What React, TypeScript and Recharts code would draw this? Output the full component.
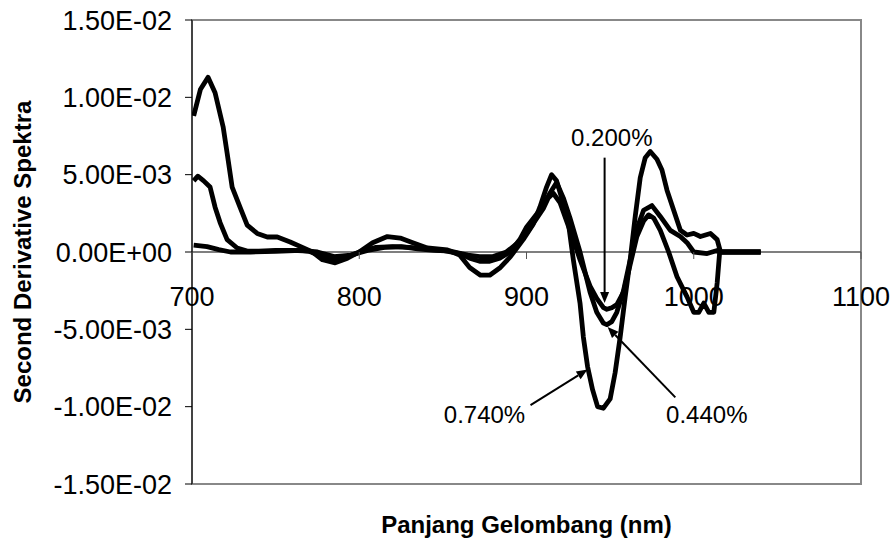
import {
  Line,
  LineChart,
  ReferenceArea,
  ReferenceDot,
  ReferenceLine,
  XAxis,
  YAxis,
} from "recharts";

// values, y in units of 1E-03
const nm740 = [701, 705, 709.6, 713.8, 718.6, 721, 724, 728.7, 733, 739, 745, 751, 758.7, 766, 772, 778, 785.6, 793, 800, 808, 816.8, 824.5, 832, 840.7, 852.7, 860, 866, 872.5, 878, 884.4, 890.4, 898, 904, 908, 912, 915, 918, 921, 924.5, 928, 932, 934, 936.5, 939.5, 942.5, 946, 950, 953, 956, 959, 962, 965, 968, 971, 974, 978, 981, 984, 988, 992, 996, 1000, 1004, 1010, 1014, 1016, 1025, 1040];
const val740 = [8.8, 10.5, 11.3, 10.3, 8.1, 6.4, 4.2, 2.9, 1.74, 1.2, 0.97, 0.97, 0.65, 0.3, 0, -0.5, -0.7, -0.4, 0, 0.6, 1.0, 0.9, 0.6, 0.26, 0.13, -0.2, -1.0, -1.5, -1.5, -1.0, -0.3, 0.8, 1.8, 2.9, 4.2, 5.0, 4.6, 3.5, 2.3, -0.5, -3.3, -5.5, -7.4, -8.9, -10.0, -10.1, -9.5, -7.8, -5.5, -2.9, -0.5, 2.3, 4.8, 6.1, 6.5, 6.0, 5.3, 4.0, 2.7, 1.4, 1.1, 1.2, 1.0, 1.2, 0.8, 0, 0, 0];

const nm440 = [701, 703.5, 707, 710.8, 713.8, 716.8, 721, 727, 733, 740, 750, 760, 770, 778, 786, 793, 800, 810, 820, 830, 840, 850, 860, 866, 872, 878, 884, 890, 896, 900, 905, 910, 914, 918, 922, 926, 932, 938, 942, 946, 948, 951, 954, 958, 962, 966, 970, 975, 980, 986, 992, 996, 1000, 1008, 1014, 1016, 1025, 1040];
const val440 = [4.6, 4.9, 4.6, 4.2, 2.9, 1.9, 0.8, 0.26, 0.06, 0.05, 0.1, 0.1, 0.05, -0.3, -0.5, -0.3, 0, 0.3, 0.35, 0.3, 0.2, 0.1, -0.1, -0.4, -0.6, -0.6, -0.4, 0, 0.8, 1.6, 2.3, 3.0, 3.8, 4.5, 3.5, 2.2, 0.0, -2.6, -3.9, -4.6, -4.7, -4.5, -3.9, -2.5, -0.5, 1.5, 2.7, 3.0, 2.3, 1.4, 1.0, 0.6, 0, -0.1, 0.1, 0, 0, 0];

const nm200 = [701, 709, 716, 723, 735, 750, 765, 775, 785, 795, 805, 815, 825, 835, 845, 855, 865, 872, 880, 888, 895, 900, 905, 910, 913, 916, 920, 924, 928, 932, 938, 942, 946, 948, 951, 954, 958, 962, 966, 970, 973, 976, 980, 985, 990, 996, 1000, 1003, 1006, 1009, 1012, 1014, 1015.5, 1025, 1040];
const val200 = [0.45, 0.35, 0.15, 0, 0, 0.05, 0.1, 0, -0.3, -0.2, 0.1, 0.3, 0.35, 0.2, 0.1, 0.05, -0.2, -0.3, -0.3, 0, 0.6, 1.2, 2.0, 2.8, 3.5, 3.8, 3.2, 2.0, 0.8, -0.5, -2.2, -3.0, -3.6, -3.7, -3.6, -3.4, -2.6, -0.8, 1.0, 2.0, 2.4, 2.2, 1.4, 0, -1.6, -2.9, -3.9, -3.9, -3.3, -3.9, -3.9, -2.0, 0, 0, 0];

const xTicks = [700, 800, 900, 1000, 1100];
const yTicks = [-0.015, -0.01, -0.005, 0, 0.005, 0.01, 0.015];

const toRows = (xs: number[], ys: number[]) =>
  xs.map((x, i) => ({ x, y: ys[i] * 1e-3 }));

const FONT = "'Liberation Sans', Arial, sans-serif";
const PLOT_H = 464;

function fmtE(v: number) {
  const [m, e] = v.toExponential(2).split("e");
  const n = Math.abs(Number(e));
  return `${m}E${e.startsWith("-") ? "-" : "+"}${String(n).padStart(2, "0")}`;
}

function XTick({ x, y, payload }: any) {
  const zeroY = y - PLOT_H / 2;
  return (
    <g>
      <line x1={x} x2={x} y1={zeroY} y2={zeroY + 7} stroke="#555" />
      <text x={x} y={zeroY + 54} textAnchor="middle" fontSize={27} fill="#000" fontFamily={FONT}>
        {payload.value}
      </text>
    </g>
  );
}

function Arrow(head: boolean) {
  return (p: any) => {
    const { x1, y1, x2, y2 } = p;
    const a = Math.atan2(y2 - y1, x2 - x1);
    const L = 11;
    const W = 4.5;
    const bx = x2 - L * Math.cos(a);
    const by = y2 - L * Math.sin(a);
    const pts = `${x2},${y2} ${bx - W * Math.sin(a)},${by + W * Math.cos(a)} ${bx + W * Math.sin(a)},${by - W * Math.cos(a)}`;
    return (
      <g>
        <line x1={x1} y1={y1} x2={head ? bx : x2} y2={head ? by : y2} stroke="#000" strokeWidth={2} />
        {head && <polygon points={pts} fill="#000" />}
      </g>
    );
  };
}

function Note(text: string) {
  return (p: any) => (
    <text x={p.cx} y={p.cy} dy="0.35em" textAnchor="middle" fontSize={24} fill="#000" fontFamily={FONT}>
      {text}
    </text>
  );
}

export default function App() {
  return (
    <div style={{ width: 892, height: 540, background: "#fff" }}>
      <style>{`body{margin:0}`}</style>
      <LineChart
        width={892}
        height={540}
        margin={{ top: 20, right: 31, bottom: 0, left: 0 }}
        style={{ fontFamily: FONT }}
      >
        <XAxis
          type="number"
          dataKey="x"
          domain={[700, 1100]}
          ticks={xTicks}
          allowDataOverflow
          axisLine={false}
          tickLine={false}
          tickSize={0}
          tickMargin={0}
          height={56}
          tick={<XTick />}
          label={{
            content: (p: any) => (
              <text
                x={p.viewBox.x + p.viewBox.width / 2}
                y={533}
                textAnchor="middle"
                fontSize={24}
                fontWeight="bold"
                fill="#000"
                fontFamily={FONT}
              >
                Panjang Gelombang (nm)
              </text>
            ),
          }}
        />
        <YAxis
          type="number"
          domain={[-0.015, 0.015]}
          ticks={yTicks}
          allowDataOverflow
          width={192}
          axisLine={{ stroke: "#000" }}
          tickLine={{ stroke: "#000" }}
          tickSize={7}
          tickMargin={13}
          tickFormatter={fmtE}
          tick={{ fontSize: 27, fill: "#000", fontFamily: FONT }}
          label={{
            content: (p: any) => {
              const cy = p.viewBox.y + p.viewBox.height / 2;
              return (
                <text
                  x={23}
                  y={cy}
                  transform={`rotate(-90, 23, ${cy})`}
                  dy="0.35em"
                  textAnchor="middle"
                  fontSize={24}
                  fontWeight="bold"
                  fill="#000"
                  fontFamily={FONT}
                >
                  Second Derivative Spektra
                </text>
              );
            },
          }}
        />
        <ReferenceArea
          x1={700}
          x2={1100}
          y1={-0.015}
          y2={0.015}
          fill="none"
          stroke="#888"
          strokeWidth={2}
        />
        <ReferenceLine y={0} stroke="#555" strokeWidth={1.5} />
        <Line data={toRows(nm200, val200)} dataKey="y" name="0.200%" type="linear" stroke="#000" strokeWidth={4.8} strokeLinejoin="round" dot={false} isAnimationActive={false} />
        <Line data={toRows(nm440, val440)} dataKey="y" name="0.440%" type="linear" stroke="#000" strokeWidth={4.8} strokeLinejoin="round" dot={false} isAnimationActive={false} />
        <Line data={toRows(nm740, val740)} dataKey="y" name="0.740%" type="linear" stroke="#000" strokeWidth={4.8} strokeLinejoin="round" dot={false} isAnimationActive={false} />
        <ReferenceLine
          segment={[{ x: 946.7, y: 0.0061 }, { x: 946.7, y: -0.0033 }]}
          shape={Arrow(true)}
        />
        <ReferenceLine
          segment={[{ x: 989, y: -0.0094 }, { x: 948.5, y: -0.00485 }]}
          shape={Arrow(true)}
        />
        <ReferenceLine
          segment={[{ x: 902.4, y: -0.0099 }, { x: 936.5, y: -0.0076 }]}
          shape={Arrow(true)}
        />
        <ReferenceDot x={951} y={0.0074} r={0} shape={Note("0.200%")} />
        <ReferenceDot x={1007.8} y={-0.0105} r={0} shape={Note("0.440%")} />
        <ReferenceDot x={874.9} y={-0.0105} r={0} shape={Note("0.740%")} />
      </LineChart>
    </div>
  );
}
